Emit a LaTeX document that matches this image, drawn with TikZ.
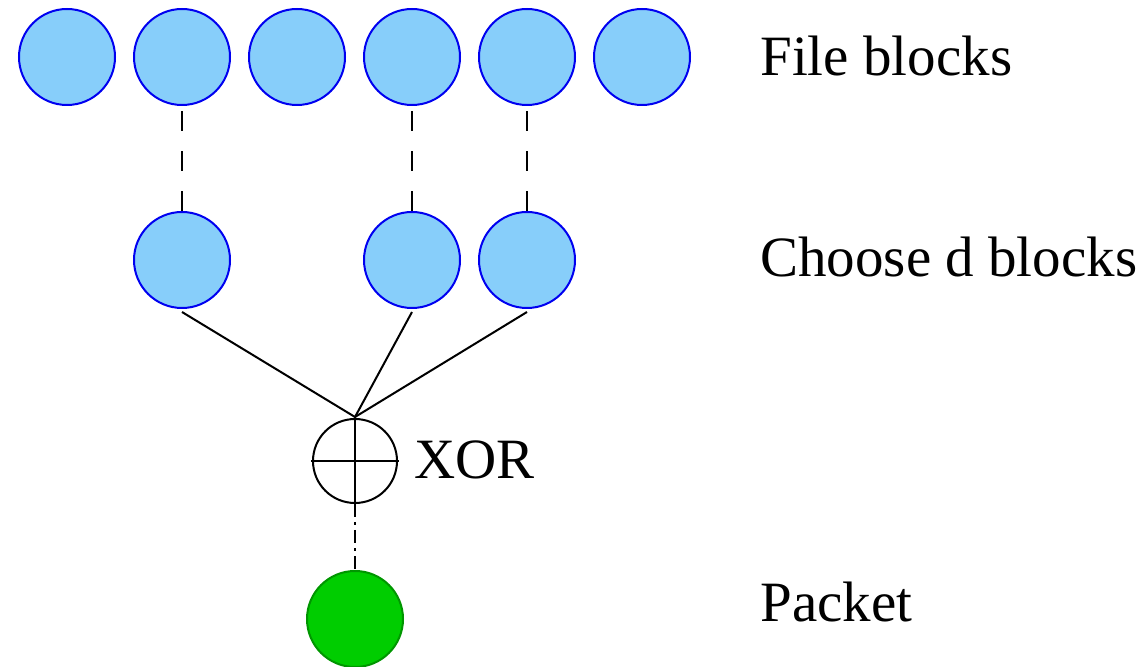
\documentclass[tikz,border=0pt]{standalone}
\usepackage{fontspec}
\setmainfont{Liberation Serif}
\definecolor{blockfill}{RGB}{135, 206, 250}
\definecolor{blockline}{RGB}{0, 0, 240}
\definecolor{packetfill}{RGB}{0, 205, 0}
\definecolor{packetline}{RGB}{0, 150, 0}
\usetikzlibrary{calc}
\usetikzlibrary{positioning}
\tikzset{
  block/.style={
    circle, fill=blockfill, draw=blockline, line width=1pt,
    minimum size=48pt, inner sep=0
  },
  packetnode/.style={block, fill=packetfill, draw=packetline},
  xornode/.style={circle, draw=black, line width=1pt, minimum size=42pt, inner sep=0},
  caption/.style={anchor=base west, inner sep=0, font=\fontsize{28.5}{34}\selectfont},
  link/.style={line width=1pt},
  picklink/.style={link, dash pattern=on 10pt off 10pt},
  outlink/.style={link, dash pattern=on 6.5pt off 2.5pt on 1.5pt off 2.5pt}
}

\begin{document}
\begin{tikzpicture}[x=0.5pt, y=-0.5pt]
  \useasboundingbox (0,0) rectangle (1145,667);

  % file blocks
  \foreach \i/\x in {1/67, 2/182, 3/297, 4/412, 5/527, 6/642}
    \node [block] (file\i) at (\x,57) {};

  % chosen blocks
  \node [block] (pick2) at (182,260) {};
  \node [block] (pick4) at (412,260) {};
  \node [block] (pick5) at (527,260) {};

  \node [xornode] (xor) at (355,461) {};
  \coordinate (join) at (355,417);
  \node [block, packetnode] (packet) at (355,619) {};

  \foreach \i in {2,4,5} {
    \draw [picklink] (pick\i.north) -- (file\i.south);
    \draw [link] ($(pick\i.south)+(0,3)$) -- (join);
  }
  \draw [link] (join) -- (xor.south);
  \draw [link] ($(xor.west)+(-1,0)$) -- ($(xor.east)+(1,0)$);
  \draw [outlink] (xor.south) -- ($(packet.north)+(0,4)$);

  \node [caption] (filetext) at (760,76) {File blocks};
  \node [caption] (picktext) at (760,277) {Choose d blocks};
  \node [caption] (xortext) at (414,479) {XOR};
  \node [caption] (packettext) at (760,621) {Packet};
\end{tikzpicture}
\end{document}
